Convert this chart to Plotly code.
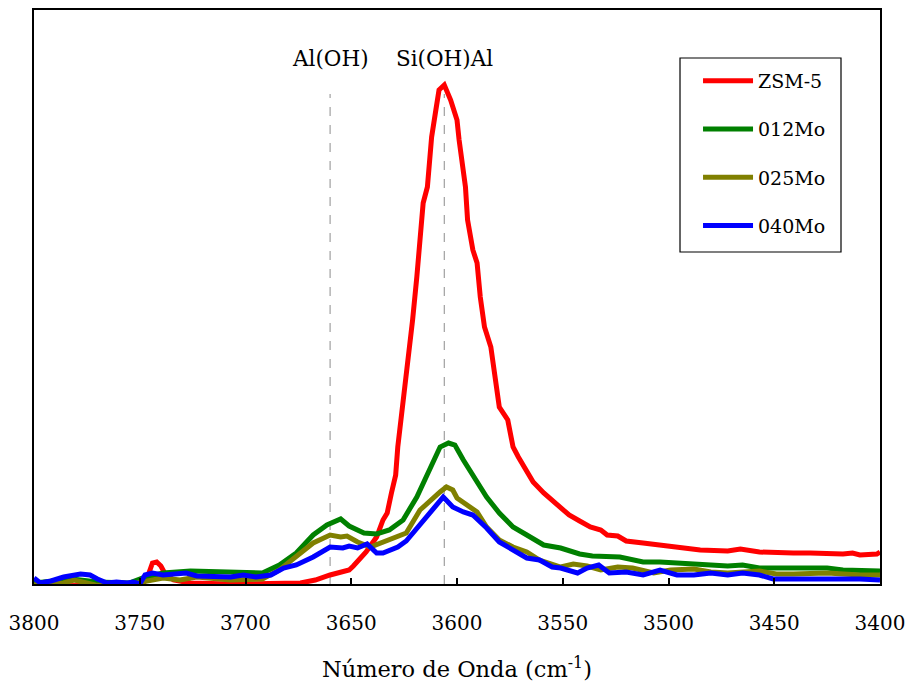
import plotly.graph_objects as go

# Wavenumber (cm-1) and absorbance (a.u.) of each sample's OH-stretching spectrum
zsm5_x = [3800, 3786, 3769, 3750, 3748.5, 3746, 3744, 3742, 3740, 3738, 3734, 3726, 3707, 3688,
          3674, 3667, 3660, 3651, 3649, 3643, 3638, 3635, 3633, 3631, 3629, 3628, 3626, 3623,
          3622, 3621, 3619, 3616, 3614, 3612, 3610, 3608.5, 3606, 3605, 3603, 3600, 3599, 3596,
          3595, 3592.5, 3590.5, 3589, 3587, 3584, 3582, 3580, 3576, 3573.5, 3571, 3567, 3564,
          3559, 3555, 3551, 3547, 3542, 3537, 3532, 3529, 3524, 3520, 3512, 3504, 3496, 3488,
          3485, 3472, 3466, 3457, 3449, 3441, 3433, 3425, 3417.5, 3413, 3409.5, 3401.5, 3400]
zsm5_y = [-0.4, -0.4, -0.2, -0.2, 0.0, 1.8, 4.2, 4.4, 3.6, 2.0, 0.8, 0.2, 0.0, 0.0,
          0.2, 0.8, 1.8, 2.8, 3.6, 6.4, 9.4, 12.8, 14.2, 18.2, 21.8, 27.4, 34.2, 44.2,
          47.4, 52.8, 61.4, 76.2, 79.4, 89.4, 94.8, 98.8, 99.8, 98.8, 96.8, 92.8, 88.8, 79.4,
          72.8, 66.8, 64.2, 57.4, 51.4, 47.4, 40.8, 35.4, 32.8, 27.4, 25.4, 22.8, 20.4,
          18.2, 16.8, 15.2, 13.8, 12.6, 11.4, 10.8, 9.8, 9.6, 8.6, 8.2, 7.8, 7.4, 7.2,
          6.8, 6.6, 7.0, 6.4, 6.2, 6.2, 6.2, 6.0, 6.0, 6.2, 5.8, 6.0, 6.4]

mo012_x = [3800, 3792, 3786, 3782, 3770, 3755, 3748.5, 3739, 3726, 3713.5, 3701, 3692, 3684,
           3676, 3668, 3661.5, 3655, 3651, 3644, 3638, 3632, 3625.5, 3619, 3613, 3608, 3604,
           3601, 3597, 3590.5, 3586, 3580, 3573.5, 3567, 3559, 3551, 3545, 3542, 3536, 3523,
           3512, 3504, 3488, 3472, 3465, 3457, 3441, 3425, 3417.5, 3401.5, 3400]
mo012_y = [0.2, 0.6, 1.0, 1.0, 0.4, 0.2, 1.2, 2.2, 2.6, 2.4, 2.2, 2.2, 3.8,
           6.2, 9.8, 11.8, 13.0, 11.6, 10.2, 10.0, 10.8, 12.8, 17.4, 22.8, 27.4, 28.2,
           27.8, 24.8, 20.2, 17.4, 14.2, 11.4, 9.8, 7.8, 7.2, 6.4, 6.0, 5.6, 5.4,
           4.4, 4.4, 4.0, 3.6, 3.8, 3.2, 3.2, 3.2, 2.8, 2.6, 2.6]

mo025_x = [3800, 3792, 3786, 3781, 3776, 3771, 3759, 3748.5, 3739, 3731, 3723, 3707, 3692,
           3684, 3676, 3668, 3660, 3655, 3652, 3647, 3641, 3636, 3630, 3624, 3617.5, 3611,
           3608, 3605, 3602, 3600, 3595, 3590.5, 3586, 3580, 3573.5, 3567, 3561, 3555, 3551,
           3545, 3538.5, 3532, 3524, 3517, 3507, 3499, 3488, 3480, 3472, 3457, 3449, 3441,
           3425, 3409.5, 3400]
mo025_y = [-0.2, 0.0, 0.2, 0.8, 0.4, -0.2, -0.4, 0.4, 1.2, 0.8, 1.4, 0.8, 1.0,
           2.8, 5.4, 8.2, 9.8, 9.4, 9.6, 8.4, 7.4, 8.2, 9.0, 10.2, 14.8, 17.4,
           18.4, 19.4, 18.8, 17.2, 15.8, 14.4, 11.4, 8.8, 7.4, 6.4, 4.8, 3.8, 3.4,
           4.0, 3.6, 2.8, 3.4, 3.2, 2.2, 2.8, 3.0, 2.4, 2.2, 2.6, 2.0, 2.0,
           2.2, 1.8, 1.8]

mo040_x = [3800, 3797, 3792, 3786, 3778, 3773.5, 3770, 3765.5, 3761, 3756, 3753, 3750, 3747.5,
           3744, 3739, 3734, 3728, 3723, 3715, 3707, 3701, 3695, 3688, 3682, 3676, 3668, 3660,
           3654, 3651, 3647, 3642.5, 3638, 3635, 3628, 3624, 3617.5, 3611, 3606.5, 3602, 3597,
           3592.5, 3586, 3580, 3573.5, 3567, 3561, 3555, 3551, 3547, 3543, 3538.5, 3533, 3528,
           3520, 3512, 3504, 3496, 3488, 3480, 3472, 3465, 3457, 3450.5, 3441, 3425, 3417.5,
           3409.5, 3400]
mo040_y = [1.2, 0.2, 0.6, 1.4, 2.0, 1.8, 1.0, 0.2, 0.4, 0.2, 0.4, 0.0, 1.8,
           2.2, 1.8, 2.0, 2.2, 1.6, 1.4, 1.4, 1.8, 1.4, 1.8, 3.2, 3.8, 5.4, 7.4,
           7.2, 7.6, 7.2, 8.0, 6.2, 6.2, 7.4, 8.6, 11.8, 15.2, 17.4, 15.4, 14.4,
           13.8, 11.2, 8.4, 6.8, 5.2, 4.8, 3.4, 3.2, 2.8, 2.2, 3.2, 3.8, 2.2,
           2.4, 1.8, 2.8, 1.8, 1.8, 2.2, 1.8, 2.2, 1.8, 1.0, 1.0, 1.2, 1.0,
           1.0, 0.8]

series_names = ["ZSM-5", "012Mo", "025Mo", "040Mo"]
series_colors = ["#ff0000", "#008000", "#808000", "#0000ff"]
series_x = [zsm5_x, mo012_x, mo025_x, mo040_x]
series_y = [zsm5_y, mo012_y, mo025_y, mo040_y]

# Band assignments marked with dashed guides
band_labels = ["Al(OH)", "Si(OH)Al"]
band_positions = [3660, 3606]

x_ticks = [3800, 3750, 3700, 3650, 3600, 3550, 3500, 3450, 3400]

SERIF = "DejaVu Serif"

fig = go.Figure()
for i, (name, color, xs, ys) in enumerate(zip(series_names, series_colors, series_x, series_y)):
    fig.add_trace(go.Scatter(
        x=xs, y=ys, mode="lines", name=name, legendgroup=f"g{i}",
        line=dict(color=color, width=5),
    ))

for label, pos in zip(band_labels, band_positions):
    fig.add_shape(type="line", xref="x", yref="y", x0=pos, x1=pos, y0=0, y1=98,
                  line=dict(color="#a0a0a0", width=1.2, dash="dash"), layer="below")
    fig.add_annotation(x=pos, y=105.2, xref="x", yref="y", text=label, showarrow=False,
                       font=dict(family=SERIF, size=21.5, color="black"))

# legend frame
fig.add_shape(type="rect", xref="paper", yref="paper", x0=0.7636, x1=0.9539, y0=0.5784, y1=0.9164,
              line=dict(color="black", width=1.2), fillcolor="white", layer="below")

fig.add_annotation(x=0.5, y=-0.145, xref="paper", yref="paper", yanchor="middle",
                   text="Número de Onda (cm<sup>-1</sup>)", showarrow=False,
                   font=dict(family=SERIF, size=22.5, color="black"))

fig.update_layout(
    width=905, height=683,
    margin=dict(l=34, r=25, t=10, b=99, autoexpand=False),
    paper_bgcolor="white", plot_bgcolor="white",
    font=dict(family=SERIF, color="black"),
    legend=dict(x=0.7849, y=0.9095, xanchor="left", yanchor="top",
                bgcolor="rgba(0,0,0,0)", borderwidth=0, itemwidth=50,
                tracegroupgap=20.5, font=dict(family=SERIF, size=19, color="black")),
    xaxis=dict(range=[3800, 3400], tickvals=x_ticks, ticks="inside", ticklen=6, tickwidth=1.5,
               tickcolor="black", showline=True, linecolor="black", linewidth=2, mirror=True,
               showgrid=False, zeroline=False, ticklabelstandoff=20, ticklabeloverflow="allow",
               automargin=False, tickfont=dict(family=SERIF, size=20, color="black")),
    yaxis=dict(range=[0, 114.8], showticklabels=False, ticks="", showline=True, automargin=False,
               linecolor="black", linewidth=2, mirror=True, showgrid=False, zeroline=False),
)

fig.write_html("out.html")
